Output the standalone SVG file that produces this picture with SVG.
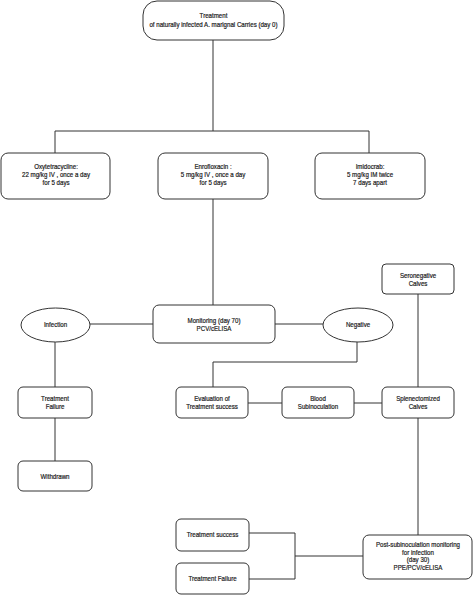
<svg xmlns="http://www.w3.org/2000/svg" width="474" height="595" viewBox="0 0 474 595">
<style>
.n{fill:#fff;stroke:#333;stroke-width:1}
.t{font-family:"Liberation Sans",Arial,sans-serif;font-size:7px;fill:#1a1a1a;stroke:#1a1a1a;stroke-width:0.2;text-anchor:middle;transform-box:fill-box;transform-origin:center;transform:scaleX(0.88)}
.c{fill:none;stroke:#333;stroke-width:1}
</style>
<rect width="474" height="595" fill="#fff"/>
<g id="connectors">
<path class="c" d="M213,40V131M55,131H369M55,131V153M369,131V153"/>
<path class="c" d="M213,199V305"/>
<path class="c" d="M90,324H153M275,324H323"/>
<path class="c" d="M55,342V387M55,418V461"/>
<path class="c" d="M357,342V362H213V387"/>
<path class="c" d="M248,403H282M354,403H382"/>
<path class="c" d="M418,294V387M418,418V535"/>
<path class="c" d="M249,533H295M249,579H295M295,533V579M295,556H363"/>
</g>
<g id="top"><rect class="n" x="143" y="1" width="141" height="39" rx="14"/><text class="t" x="213.5" y="18">Treatment</text><text class="t" x="213.5" y="27">of naturally infected A. marignal Carries (day 0)</text></g>
<g id="oxy"><rect class="n" x="1" y="153" width="109" height="46" rx="7"/><text class="t" x="56" y="169">Oxytetracycline:</text><text class="t" x="56" y="177">22 mg/kg IV , once a day</text><text class="t" x="56" y="185">for 5 days</text></g>
<g id="enro"><rect class="n" x="158" y="153" width="110" height="46" rx="7"/><text class="t" x="213" y="169">Enrofloxacin :</text><text class="t" x="213" y="177">5 mg/kg IV , once a day</text><text class="t" x="213" y="185">for 5 days</text></g>
<g id="imido"><rect class="n" x="315" y="153" width="110" height="46" rx="7"/><text class="t" x="370" y="169">Imidocrab:</text><text class="t" x="370" y="177">5 mg/kg IM twice</text><text class="t" x="370" y="185">7 days apart</text></g>
<g id="monitoring"><rect class="n" x="153" y="305" width="122" height="38" rx="6"/><text class="t" x="214" y="323.5">Monitoring (day 70)</text><text class="t" x="214" y="331.5">PCV/cELISA</text></g>
<g id="infection"><ellipse class="n" cx="55.5" cy="325" rx="34.5" ry="17"/><text class="t" x="55.5" y="327.5">Infection</text></g>
<g id="negative"><ellipse class="n" cx="358" cy="325" rx="35" ry="17"/><text class="t" x="358" y="327.5">Negative</text></g>
<g id="seroneg"><rect class="n" x="382" y="264" width="72" height="30" rx="4"/><text class="t" x="418" y="278">Seronegative</text><text class="t" x="418" y="286.5">Calves</text></g>
<g id="tfail1"><rect class="n" x="18" y="387" width="74" height="31" rx="5"/><text class="t" x="55" y="401.5">Treatment</text><text class="t" x="55" y="409">Failure</text></g>
<g id="withdrawn"><rect class="n" x="18" y="461" width="74" height="30" rx="5"/><text class="t" x="55" y="479.5">Withdrawn</text></g>
<g id="evaluation"><rect class="n" x="176" y="387" width="72" height="31" rx="5"/><text class="t" x="212" y="401.5">Evaluation of</text><text class="t" x="212" y="409">Treatment success</text></g>
<g id="blood"><rect class="n" x="282" y="387" width="72" height="31" rx="5"/><text class="t" x="318" y="401.5">Blood</text><text class="t" x="318" y="409">Subinoculation</text></g>
<g id="splen"><rect class="n" x="382" y="387" width="72" height="31" rx="5"/><text class="t" x="418" y="401.5">Splenectomized</text><text class="t" x="418" y="409">Calves</text></g>
<g id="tsuccess"><rect class="n" x="176" y="519" width="73" height="32" rx="5"/><text class="t" x="212.5" y="537.5">Treatment success</text></g>
<g id="tfail2"><rect class="n" x="176" y="563" width="73" height="31" rx="5"/><text class="t" x="212.5" y="581.5">Treatment Failure</text></g>
<g id="postsub"><rect class="n" x="363" y="535" width="109" height="44" rx="6"/><text class="t" x="418" y="547.5">Post-subinoculation monitoring</text><text class="t" x="418" y="555">for infection</text><text class="t" x="418" y="562.5">(day 30)</text><text class="t" x="418" y="570">PPE/PCV/cELISA</text></g>
</svg>
